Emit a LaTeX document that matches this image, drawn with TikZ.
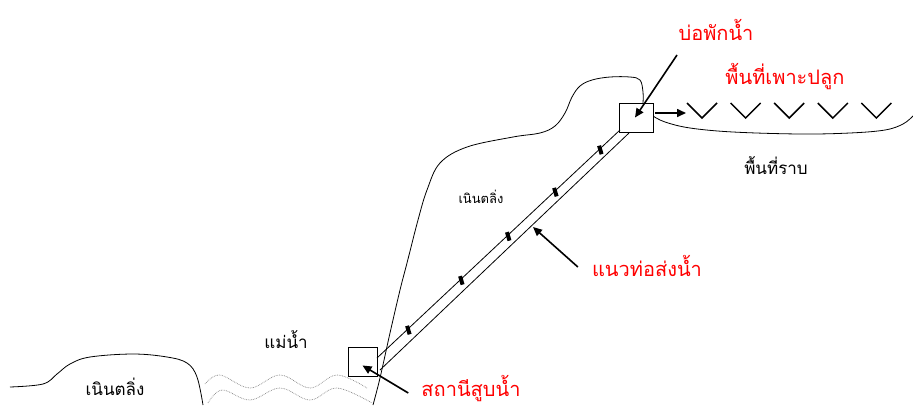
\documentclass[tikz,border=0pt]{standalone}
\usepackage{fontspec}
\newfontfamily\thaifont[Script=Thai]{Loma}
\usetikzlibrary{arrows.meta,calc}

\tikzset{
  terrain/.style={line width=0.8pt, black},
  river/.style={line width=0.7pt, gray, densely dotted},
  pipe/.style={line width=0.8pt, black},
  joint/.style={line width=4pt, black},
  unitbox/.style={draw, line width=0.8pt, fill=white, inner sep=0pt},
  pointer/.style={line width=1.6pt, -{Triangle[length=9pt,width=8pt]}},
  crop/.style={line width=1.5pt},
  redlabel/.style={text=red, inner sep=0pt, font=\thaifont\fontsize{20}{22}\selectfont},
  blacklabel/.style={text=black, inner sep=0pt, font=\thaifont\fontsize{17}{19}\selectfont},
  smalllabel/.style={text=black, inner sep=0pt, font=\thaifont\fontsize{13}{15}\selectfont},
}

\begin{document}
\begin{tikzpicture}[x=1pt,y=-1pt]
\useasboundingbox (0,0) rectangle (913,405);

% low bank on the left
\draw[terrain] plot[smooth, tension=0.6] coordinates {
  (10,387) (43,384) (57,374) (70,364) (90,357) (133,354) (167,357)
  (187,363) (197,377) (203,405)};

% river surface
\draw[river] plot[smooth, tension=0.6] coordinates {
  (205,384) (220,375) (250,388) (280,375) (310,388) (337,375) (367,388)};
\draw[river] plot[smooth, tension=0.6] coordinates {
  (208,403) (222,390) (250,400) (280,388) (310,400) (337,388) (372,403)};

% hill rising to the tank
\draw[terrain] plot[smooth, tension=0.6] coordinates {
  (373,405) (380,378) (390,333) (400,290) (407,263) (418,220) (427,190)
  (440,163) (467,147) (513,137) (540,133) (555,126) (565,113) (572,97)
  (580,86) (592,80) (610,77) (630,77) (640,80) (643,92) (643,103)};

% plain beyond the tank
\draw[terrain] plot[smooth, tension=0.6] coordinates {
  (653,116) (665,122) (690,128) (733,132) (800,134) (850,133) (885,130)
  (903,124) (913,116)};

% pumping station and storage tank
\node[unitbox, minimum width=29pt, minimum height=29pt] (pump) at (362.5,361.5) {};
\node[unitbox, minimum width=34pt, minimum height=29pt] (tank) at (636,117.5) {};

% pipeline
\coordinate (u1) at (377,358);
\coordinate (u2) at (620,130);
\coordinate (l1) at (380,370);
\coordinate (l2) at (629,133);
\draw[pipe] (u1) -- (u2);
\draw[pipe] (l1) -- (l2);
\foreach \t in {0.128,0.346,0.539,0.733,0.918}
  \draw[joint] ($(u1)!\t!(u2)+(-1,-3)$) -- ++(2.5,8.5);

% crop rows
\foreach \i in {0,...,4}
  \draw[crop] ({687+43.6*\i},103) -- ({702+43.6*\i},118) -- ({717+43.6*\i},103);

% labels
\node[blacklabel] (bankL) at (115,387) {เนินตลิ่ง};
\node[blacklabel] (river) at (286,340) {แม่น้ำ};
\node[smalllabel] (bankM) at (481,197) {เนินตลิ่ง};
\node[redlabel] (tanklbl) at (716,30) {บ่อพักน้ำ};
\node[redlabel] (croplbl) at (785,77) {พื้นที่เพาะปลูก};
\node[blacklabel] (plain) at (776,166) {พื้นที่ราบ};
\node[redlabel] (pipelbl) at (647,266) {แนวท่อส่งน้ำ};
\node[redlabel] (pumplbl) at (471,389) {สถานีสูบน้ำ};

% pointers
\coordinate (cropstart) at (686,113);
\coordinate (pipehit) at (533,227);
\draw[pointer] (tank.east |- 0,113) ++(2,0) -- (cropstart);
\draw[pointer] (677,55) -- ($(tank.center)+(-1,0)$);
\draw[pointer] (pipelbl.west) ++(-14,1) -- (pipehit);
\draw[pointer] (pumplbl.west) ++(-13,4) -- ($(pump.center)+(0,4)$);
\end{tikzpicture}
\end{document}
